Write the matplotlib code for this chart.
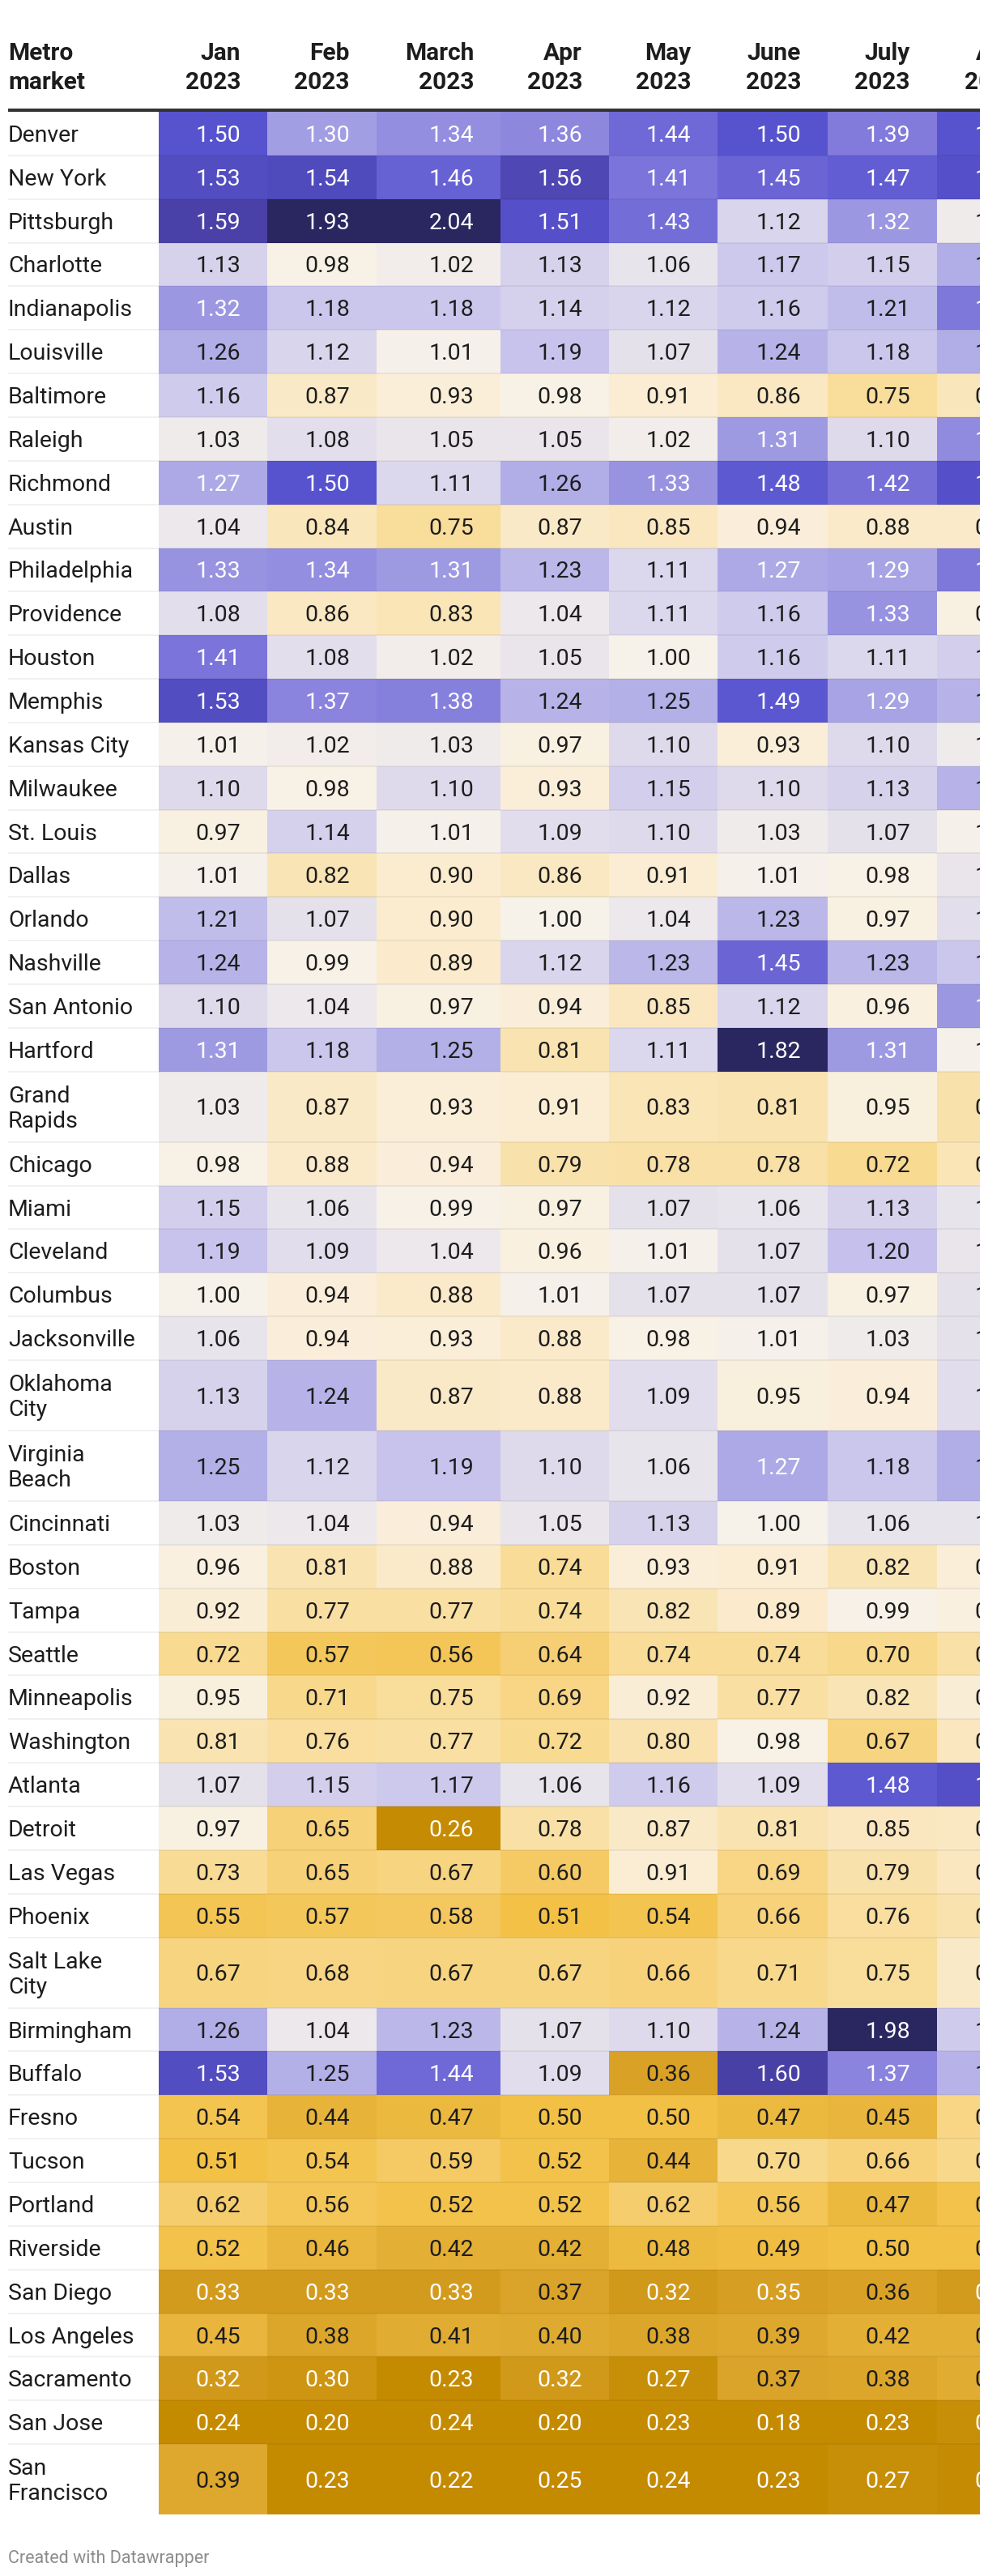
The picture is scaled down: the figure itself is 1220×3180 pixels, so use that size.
import matplotlib
matplotlib.use("Agg")
import matplotlib.pyplot as plt
import numpy as np
from matplotlib.colors import LinearSegmentedColormap, Normalize

# ---- data -------------------------------------------------------------------
markets = [
    "Denver", "New York", "Pittsburgh", "Charlotte", "Indianapolis", "Louisville",
    "Baltimore", "Raleigh", "Richmond", "Austin", "Philadelphia", "Providence",
    "Houston", "Memphis", "Kansas City", "Milwaukee", "St. Louis", "Dallas",
    "Orlando", "Nashville", "San Antonio", "Hartford", "Grand\nRapids", "Chicago",
    "Miami", "Cleveland", "Columbus", "Jacksonville", "Oklahoma\nCity",
    "Virginia\nBeach", "Cincinnati", "Boston", "Tampa", "Seattle", "Minneapolis",
    "Washington", "Atlanta", "Detroit", "Las Vegas", "Phoenix", "Salt Lake\nCity",
    "Birmingham", "Buffalo", "Fresno", "Tucson", "Portland", "Riverside",
    "San Diego", "Los Angeles", "Sacramento", "San Jose", "San\nFrancisco",
]
months = ["Jan\n2023", "Feb\n2023", "March\n2023", "Apr\n2023", "May\n2023",
          "June\n2023", "July\n2023", "Aug\n2023"]

jan = [1.50, 1.53, 1.59, 1.13, 1.32, 1.26, 1.16, 1.03, 1.27, 1.04, 1.33, 1.08, 1.41,
       1.53, 1.01, 1.10, 0.97, 1.01, 1.21, 1.24, 1.10, 1.31, 1.03, 0.98, 1.15, 1.19,
       1.00, 1.06, 1.13, 1.25, 1.03, 0.96, 0.92, 0.72, 0.95, 0.81, 1.07, 0.97, 0.73,
       0.55, 0.67, 1.26, 1.53, 0.54, 0.51, 0.62, 0.52, 0.33, 0.45, 0.32, 0.24, 0.39]
feb = [1.30, 1.54, 1.93, 0.98, 1.18, 1.12, 0.87, 1.08, 1.50, 0.84, 1.34, 0.86, 1.08,
       1.37, 1.02, 0.98, 1.14, 0.82, 1.07, 0.99, 1.04, 1.18, 0.87, 0.88, 1.06, 1.09,
       0.94, 0.94, 1.24, 1.12, 1.04, 0.81, 0.77, 0.57, 0.71, 0.76, 1.15, 0.65, 0.65,
       0.57, 0.68, 1.04, 1.25, 0.44, 0.54, 0.56, 0.46, 0.33, 0.38, 0.30, 0.20, 0.23]
mar = [1.34, 1.46, 2.04, 1.02, 1.18, 1.01, 0.93, 1.05, 1.11, 0.75, 1.31, 0.83, 1.02,
       1.38, 1.03, 1.10, 1.01, 0.90, 0.90, 0.89, 0.97, 1.25, 0.93, 0.94, 0.99, 1.04,
       0.88, 0.93, 0.87, 1.19, 0.94, 0.88, 0.77, 0.56, 0.75, 0.77, 1.17, 0.26, 0.67,
       0.58, 0.67, 1.23, 1.44, 0.47, 0.59, 0.52, 0.42, 0.33, 0.41, 0.23, 0.24, 0.22]
apr = [1.36, 1.56, 1.51, 1.13, 1.14, 1.19, 0.98, 1.05, 1.26, 0.87, 1.23, 1.04, 1.05,
       1.24, 0.97, 0.93, 1.09, 0.86, 1.00, 1.12, 0.94, 0.81, 0.91, 0.79, 0.97, 0.96,
       1.01, 0.88, 0.88, 1.10, 1.05, 0.74, 0.74, 0.64, 0.69, 0.72, 1.06, 0.78, 0.60,
       0.51, 0.67, 1.07, 1.09, 0.50, 0.52, 0.52, 0.42, 0.37, 0.40, 0.32, 0.20, 0.25]
may = [1.44, 1.41, 1.43, 1.06, 1.12, 1.07, 0.91, 1.02, 1.33, 0.85, 1.11, 1.11, 1.00,
       1.25, 1.10, 1.15, 1.10, 0.91, 1.04, 1.23, 0.85, 1.11, 0.83, 0.78, 1.07, 1.01,
       1.07, 0.98, 1.09, 1.06, 1.13, 0.93, 0.82, 0.74, 0.92, 0.80, 1.16, 0.87, 0.91,
       0.54, 0.66, 1.10, 0.36, 0.50, 0.44, 0.62, 0.48, 0.32, 0.38, 0.27, 0.23, 0.24]
jun = [1.50, 1.45, 1.12, 1.17, 1.16, 1.24, 0.86, 1.31, 1.48, 0.94, 1.27, 1.16, 1.16,
       1.49, 0.93, 1.10, 1.03, 1.01, 1.23, 1.45, 1.12, 1.82, 0.81, 0.78, 1.06, 1.07,
       1.07, 1.01, 0.95, 1.27, 1.00, 0.91, 0.89, 0.74, 0.77, 0.98, 1.09, 0.81, 0.69,
       0.66, 0.71, 1.24, 1.60, 0.47, 0.70, 0.56, 0.49, 0.35, 0.39, 0.37, 0.18, 0.23]
jul = [1.39, 1.47, 1.32, 1.15, 1.21, 1.18, 0.75, 1.10, 1.42, 0.88, 1.29, 1.33, 1.11,
       1.29, 1.10, 1.13, 1.07, 0.98, 0.97, 1.23, 0.96, 1.31, 0.95, 0.72, 1.13, 1.20,
       0.97, 1.03, 0.94, 1.18, 1.06, 0.82, 0.99, 0.70, 0.82, 0.67, 1.48, 0.85, 0.79,
       0.76, 0.75, 1.98, 1.37, 0.45, 0.66, 0.47, 0.50, 0.36, 0.42, 0.38, 0.23, 0.27]
# August is cut off at the right edge
aug = [1.50, 1.51, 1.03, 1.26, 1.40, 1.26, 0.84, 1.35, 1.51, 0.88, 1.40, 0.97, 1.15,
       1.24, 1.03, 1.24, 1.01, 1.05, 1.08, 1.18, 1.32, 1.01, 0.79, 0.83, 1.06, 1.05,
       1.07, 1.07, 1.09, 1.26, 1.06, 0.93, 0.96, 0.78, 0.92, 0.85, 1.52, 0.86, 0.85,
       0.80, 0.87, 1.16, 1.24, 0.69, 0.70, 0.52, 0.50, 0.33, 0.42, 0.41, 0.27, 0.26]

# ---- style ------------------------------------------------------------------
W, H = 1220, 3180
CLIP_X = 1210
LABEL_X = 10
TABLE_X0 = 196
COL_W = [134, 135, 153, 134, 134, 136, 135, 135]
PAD_R = 33
HEAD_BASE = 110
RULE_Y = 136
BODY_Y0 = 138
ROW_H = 53.85
LINE_H = 33.2
INK = "#1d1d1d"
FS = 20.5
FS_HEAD = 21.5

stops = [(0.25, "#c48a00"), (0.35, "#d7a025"), (0.45, "#e9b53c"), (0.50, "#f2c044"),
         (0.60, "#f5ca66"), (0.70, "#f8d88a"), (0.80, "#f9e2ae"), (0.90, "#fbecd0"),
         (1.00, "#f7f2ea"), (1.10, "#dedaec"), (1.20, "#c5c1ec"), (1.30, "#a39fe3"),
         (1.40, "#7f78db"), (1.50, "#5753cf"), (1.60, "#4840a4"), (1.80, "#2a2660")]
vmin, vmax = stops[0][0], stops[-1][0]
cmap = LinearSegmentedColormap.from_list(
    "dw", [((v - vmin) / (vmax - vmin), c) for v, c in stops])
norm = Normalize(vmin, vmax, clip=True)

plt.rcParams["font.family"] = ["Roboto", "DejaVu Sans"]

values = np.array([jan, feb, mar, apr, may, jun, jul, aug]).T
n_lines = [m.count("\n") + 1 for m in markets]
heights = [ROW_H + LINE_H * (k - 1) for k in n_lines]
y_edges = BODY_Y0 + np.concatenate([[0], np.cumsum(heights)])
x_edges = TABLE_X0 + np.concatenate([[0], np.cumsum(COL_W)])

fig = plt.figure(figsize=(W / 100, H / 100), dpi=100)
ax = fig.add_axes([0, 0, CLIP_X / W, 1])
ax.set_xlim(0, CLIP_X)
ax.set_ylim(H, 0)
ax.axis("off")

ax.pcolormesh(x_edges, y_edges, values, cmap=cmap, norm=norm, shading="flat",
              antialiased=False, edgecolors="none")
ax.hlines(y_edges[1:-1], LABEL_X, CLIP_X, colors=[(0, 0, 0, 0.07)], linewidth=1.1)
ax.hlines(RULE_Y, LABEL_X, CLIP_X, colors="#333333", linewidth=2.9)

# header
ax.text(LABEL_X, HEAD_BASE, "Metro\nmarket", ha="left", va="baseline",
        fontsize=FS_HEAD, fontweight="bold", color=INK, linespacing=1.35)
for j, m in enumerate(months):
    ax.text(x_edges[j + 1] - PAD_R, HEAD_BASE, m, ha="right", va="baseline",
            multialignment="right", fontsize=FS_HEAD, fontweight="bold", color=INK,
            linespacing=1.35, clip_on=True)

# rows
for i, name in enumerate(markets):
    yc = (y_edges[i] + y_edges[i + 1]) / 2
    ax.text(LABEL_X, yc + 10 + (n_lines[i] - 1) * 15.8, name, ha="left",
            va="baseline", fontsize=FS, color=INK, linespacing=1.2)
    for j in range(len(months)):
        v = values[i, j]
        tc = "white" if (v >= 1.27 or v <= 0.355) else INK
        ax.text(x_edges[j + 1] - PAD_R, yc + 10, f"{v:.2f}", ha="right",
                va="baseline", fontsize=FS, color=tc, clip_on=True)

ax.text(LABEL_X, 3164, "Created with Datawrapper", ha="left", va="baseline",
        fontsize=15.5, color="#8c8c8c")

fig.savefig("out.png", dpi=100, facecolor="white")
